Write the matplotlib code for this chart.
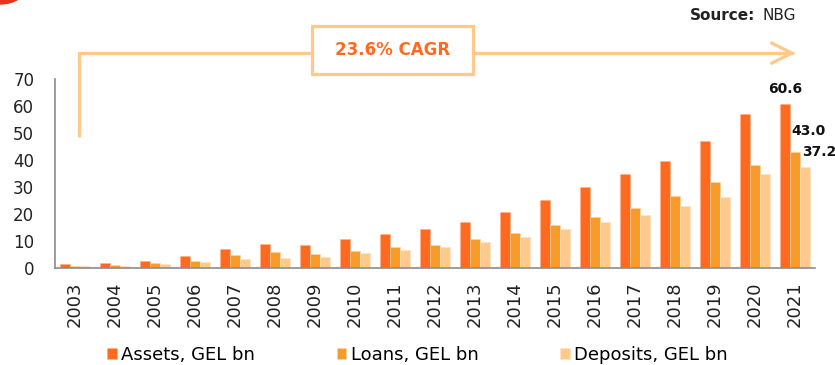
import matplotlib.pyplot as plt
import numpy as np
from matplotlib.patches import Rectangle, Ellipse

# Georgian banking sector, GEL bn
years = [str(y) for y in range(2003, 2022)]
assets = [1.4, 1.7, 2.5, 4.2, 7.1, 8.7, 8.3, 10.6, 12.6, 14.3, 17.1, 20.6,
          25.0, 30.0, 34.6, 39.6, 47.0, 57.1, 60.6]
loans = [0.7, 0.9, 1.6, 2.6, 4.6, 5.9, 5.1, 6.2, 7.6, 8.6, 10.5, 12.8,
         16.0, 18.7, 22.3, 26.5, 31.9, 38.2, 43.0]
deposits = [0.6, 0.8, 1.3, 2.1, 3.2, 3.6, 3.9, 5.4, 6.6, 7.6, 9.5, 11.4,
            14.3, 16.9, 19.6, 22.9, 26.1, 34.6, 37.2]
series_names = ['Assets, GEL bn', 'Loans, GEL bn', 'Deposits, GEL bn']
cagr_text = '23.6% CAGR'

c_assets = '#FF6A1F'
c_loans = '#F89B2A'
c_deposits = '#FFC98A'
grey = '#8C8C8C'

plt.rcParams['font.family'] = 'DejaVu Sans'

fig = plt.figure(figsize=(8.35, 3.65), dpi=100)
ax = fig.add_axes([55 / 835, 1 - 267.7 / 365, 760 / 835, (267.7 - 79) / 365])

x = np.arange(len(years))
w = 0.25
b1 = ax.bar(x - w, assets, w, color=c_assets, edgecolor='#FFB08A', linewidth=0.4, label=series_names[0])
b2 = ax.bar(x, loans, w, color=c_loans, edgecolor='#FFD6A0', linewidth=0.4, label=series_names[1])
b3 = ax.bar(x + w, deposits, w, color=c_deposits, edgecolor='#FFE4C4', linewidth=0.4, label=series_names[2])

ax.set_xlim(-0.5, len(years) - 0.5)
ax.set_ylim(0, 70)
ax.set_yticks(range(0, 71, 10))
ax.set_xticks(x)
ax.set_xticklabels(years, rotation=90)
ax.tick_params(axis='both', length=0, labelcolor='#222222')
ax.tick_params(axis='y', labelsize=12, pad=15)
ax.tick_params(axis='x', labelsize=13, pad=10)
for s in ['top', 'right']:
    ax.spines[s].set_visible(False)
for s in ['left', 'bottom']:
    ax.spines[s].set_color(grey)
    ax.spines[s].set_linewidth(1.2)

# value labels on the last year
i = len(years) - 1
ax.annotate(f'{assets[i]:.1f}', (x[i] - w, assets[i]), xytext=(0, 6), textcoords='offset points',
            ha='center', va='bottom', fontsize=10, fontweight='bold', color='#111111',
            annotation_clip=False)
ax.annotate(f'{loans[i]:.1f}', (x[i], loans[i]), xytext=(10, 10), textcoords='offset points',
            ha='center', va='bottom', fontsize=10, fontweight='bold', color='#111111',
            annotation_clip=False)
ax.annotate(f'{deposits[i]:.1f}', (x[i] + w, deposits[i]), xytext=(10, 6), textcoords='offset points',
            ha='center', va='bottom', fontsize=10, fontweight='bold', color='#111111',
            annotation_clip=False)

# CAGR bracket with open arrow head
lw = 2.3
x0, y_lo, y_hi = 0.1, 48.5, 79.6
bx0, bx1, by0, by1 = 5.92, 9.94, 71.8, 89.5
tip = 17.92
ax.plot([x0, x0, bx0], [y_lo, y_hi, y_hi], color=c_deposits, lw=lw, clip_on=False,
        solid_capstyle='butt', solid_joinstyle='miter')
ax.plot([bx1, tip], [y_hi, y_hi], color=c_deposits, lw=lw, clip_on=False)
ax.plot([tip - 0.5, tip, tip - 0.5], [y_hi + 3.7, y_hi, y_hi - 3.7], color=c_deposits,
        lw=lw, clip_on=False, solid_joinstyle='miter')
ax.add_patch(Rectangle((bx0, by0), bx1 - bx0, by1 - by0, fill=False, edgecolor=c_deposits,
                       lw=lw, clip_on=False))
ax.text((bx0 + bx1) / 2, (by0 + by1) / 2, cagr_text, ha='center', va='center',
        fontsize=12, fontweight='bold', color=c_assets, clip_on=False)

# source note
fig.text(763 / 835, 1 - 16 / 365, 'NBG', ha='left', va='center', fontsize=11, color='#222222')
fig.text(755 / 835, 1 - 16 / 365, 'Source:', ha='right', va='center', fontsize=11,
         fontweight='bold', color='#222222')

# corner logo fragment
fig.patches.append(Ellipse((0, 1 + 16 / 365), 56 / 835, 40 / 365,
                           transform=fig.transFigure, color='#E8341C', zorder=5))

fig.legend(handles=[b1, b2, b3], labels=series_names, loc='center', ncol=3,
           bbox_to_anchor=(0.5, 1 - 355 / 365), frameon=False, fontsize=13,
           handlelength=0.55, handleheight=0.55, handletextpad=0.25, columnspacing=4.5)

fig.savefig('out.png', dpi=100)
